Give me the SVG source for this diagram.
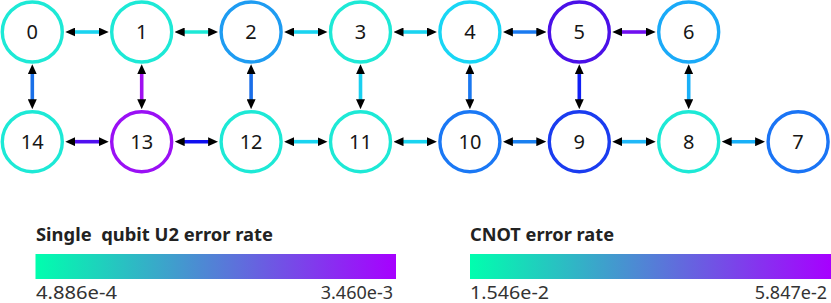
<svg xmlns="http://www.w3.org/2000/svg" width="831" height="303" viewBox="0 0 831 303">
<defs>
<style>
.n circle{fill:#fff;stroke-width:3.4}
.n text{font-family:"Noto Sans","Liberation Sans",sans-serif;font-size:20px;fill:#161616;text-anchor:middle}
.e path{fill:none;stroke-width:3.6;marker-start:url(#ah);marker-end:url(#ah)}
.t{font-family:"Noto Sans","Liberation Sans",sans-serif;font-size:17px;font-weight:bold;fill:#222}
.v{font-family:"Noto Sans","Liberation Sans",sans-serif;font-size:18px;fill:#333}
</style>
<marker id="ah" viewBox="0 0 10 9" refX="4" refY="4.5" markerWidth="10" markerHeight="9" markerUnits="userSpaceOnUse" orient="auto-start-reverse">
<path d="M0,0 L10,4.5 L0,9 z" fill="#000"/>
</marker>
<linearGradient id="g" x1="0" x2="1" y1="0" y2="0">
<stop offset="0" stop-color="#00ffae"/>
<stop offset="1" stop-color="#a700ff"/>
</linearGradient>
</defs>
<g id="connectors" class="e">
<path d="M71.3,32 H102.7" stroke="#1ad4f0"/>
<path d="M180.7,32 H212.1" stroke="#1de9d6"/>
<path d="M290.1,32 H321.5" stroke="#1ad4f0"/>
<path d="M399.5,32 H430.9" stroke="#1ad4f0"/>
<path d="M508.9,32 H540.3" stroke="#1a7af0"/>
<path d="M618.3,32 H649.7" stroke="#7010f0"/>
<path d="M71.3,141.7 H102.7" stroke="#5010f0"/>
<path d="M180.7,141.7 H212.1" stroke="#1010f0"/>
<path d="M290.1,141.7 H321.5" stroke="#1ad4f0"/>
<path d="M399.5,141.7 H430.9" stroke="#1ad4f0"/>
<path d="M508.9,141.7 H540.3" stroke="#1a80f0"/>
<path d="M618.3,141.7 H649.7" stroke="#20b8f8"/>
<path d="M727.7,141.7 H759.1" stroke="#18b0f8"/>
<path d="M32.3,70.2 V103.2" stroke="#1a70e8"/>
<path d="M141.7,70.2 V103.2" stroke="#a010f0"/>
<path d="M251.1,70.2 V103.2" stroke="#1a6ee8"/>
<path d="M360.5,70.2 V103.2" stroke="#1ad0f0"/>
<path d="M469.9,70.2 V103.2" stroke="#1a78f0"/>
<path d="M579.3,70.2 V103.2" stroke="#1020f5"/>
<path d="M688.7,70.2 V103.2" stroke="#1ab0f8"/>
</g>
<g id="node0" class="n"><circle cx="32.3" cy="32" r="30" stroke="#1de9d6"/><text x="32.3" y="39">0</text></g>
<g id="node1" class="n"><circle cx="141.7" cy="32" r="30" stroke="#1de9d6"/><text x="141.7" y="39">1</text></g>
<g id="node2" class="n"><circle cx="251.1" cy="32" r="30" stroke="#1e9cf2"/><text x="251.1" y="39">2</text></g>
<g id="node3" class="n"><circle cx="360.5" cy="32" r="30" stroke="#1de9d6"/><text x="360.5" y="39">3</text></g>
<g id="node4" class="n"><circle cx="469.9" cy="32" r="30" stroke="#18d6f5"/><text x="469.9" y="39">4</text></g>
<g id="node5" class="n"><circle cx="579.3" cy="32" r="30" stroke="#4a10e8"/><text x="579.3" y="39">5</text></g>
<g id="node6" class="n"><circle cx="688.7" cy="32" r="30" stroke="#1aaaf8"/><text x="688.7" y="39">6</text></g>
<g id="node7" class="n"><circle cx="798.1" cy="141.7" r="30" stroke="#1a74f5"/><text x="798.1" y="148.7">7</text></g>
<g id="node8" class="n"><circle cx="688.7" cy="141.7" r="30" stroke="#1de9d6"/><text x="688.7" y="148.7">8</text></g>
<g id="node9" class="n"><circle cx="579.3" cy="141.7" r="30" stroke="#1a3cf0"/><text x="579.3" y="148.7">9</text></g>
<g id="node10" class="n"><circle cx="469.9" cy="141.7" r="30" stroke="#1a78f5"/><text x="469.9" y="148.7">10</text></g>
<g id="node11" class="n"><circle cx="360.5" cy="141.7" r="30" stroke="#1de9d6"/><text x="360.5" y="148.7">11</text></g>
<g id="node12" class="n"><circle cx="251.1" cy="141.7" r="30" stroke="#1de9d6"/><text x="251.1" y="148.7">12</text></g>
<g id="node13" class="n"><circle cx="141.7" cy="141.7" r="30" stroke="#9a10f5"/><text x="141.7" y="148.7">13</text></g>
<g id="node14" class="n"><circle cx="32.3" cy="141.7" r="30" stroke="#1de9d6"/><text x="32.3" y="148.7">14</text></g>
<g id="legend-u2">
<text class="t" x="36" y="241" textLength="237" lengthAdjust="spacingAndGlyphs" xml:space="preserve">Single  qubit U2 error rate</text>
<rect x="35.5" y="254" width="360.5" height="25" fill="url(#g)"/>
<text class="v" x="36" y="299" textLength="81" lengthAdjust="spacingAndGlyphs">4.886e-4</text>
<text class="v" x="393" y="299" text-anchor="end">3.460e-3</text>
</g>
<g id="legend-cnot">
<text class="t" x="470" y="241" textLength="144" lengthAdjust="spacingAndGlyphs">CNOT error rate</text>
<rect x="470" y="254" width="361" height="25" fill="url(#g)"/>
<text class="v" x="470" y="299" textLength="79" lengthAdjust="spacingAndGlyphs">1.546e-2</text>
<text class="v" x="827" y="299" text-anchor="end">5.847e-2</text>
</g>
</svg>
